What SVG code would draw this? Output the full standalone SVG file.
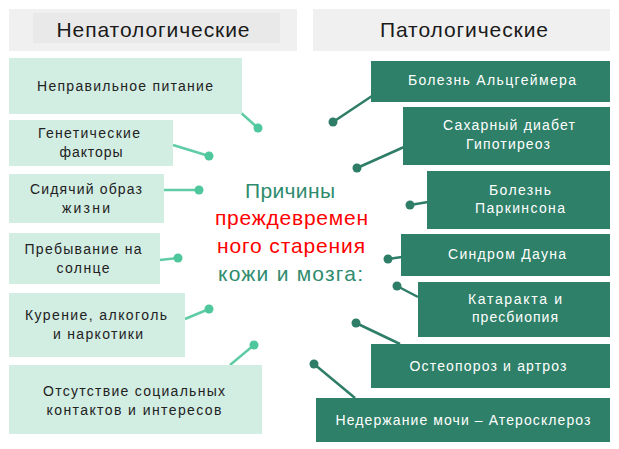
<svg xmlns="http://www.w3.org/2000/svg" width="619" height="449" viewBox="0 0 619 449">
<style>
.hdr{fill:#f0f0f0}
.hin{fill:#e9e9e9}
.lb{fill:#d2ede2}
.rb{fill:#2e8068}
.ht{font-family:"Liberation Sans",Arial,sans-serif;font-size:21px;fill:#1a1a1a;text-anchor:middle}
.lt{font-family:"Liberation Sans",Arial,sans-serif;font-size:14px;fill:#222;text-anchor:middle}
.rt{font-family:"Liberation Sans",Arial,sans-serif;font-size:14px;fill:#fff;text-anchor:middle}
.ct{font-family:"Liberation Sans",Arial,sans-serif;font-size:21px}
.g{fill:#2e8b6e}
.r{fill:#ff0000}
.ll{stroke:#5fcca5;stroke-width:2.5;fill:none}
.ld{fill:#4fc79c}
.rl{stroke:#2e7d67;stroke-width:2.5;fill:none}
.rd{fill:#2e7d67}
</style>
<rect width="619" height="449" fill="#fff"/>
<g id="header-left"><rect class="hdr" x="9" y="9" width="288" height="42"/><rect class="hin" x="33" y="13" width="247" height="30"/><text class="ht" x="153" y="37" textLength="193">Непатологические</text></g>
<g id="header-right"><rect class="hdr" x="313" y="9" width="297" height="42"/><text class="ht" x="464" y="37" textLength="168">Патологические</text></g>
<g id="connectors">
<line class="ll" x1="240" y1="112" x2="258" y2="128"/><circle class="ld" cx="258" cy="128" r="4.5"/>
<line class="ll" x1="173" y1="145" x2="209" y2="156"/><circle class="ld" cx="209" cy="156" r="4.5"/>
<line class="ll" x1="164" y1="190" x2="199" y2="190"/><circle class="ld" cx="199" cy="190" r="4.5"/>
<line class="ll" x1="160" y1="260" x2="178" y2="258"/><circle class="ld" cx="178" cy="258" r="4.5"/>
<line class="ll" x1="185" y1="319" x2="209" y2="309"/><circle class="ld" cx="209" cy="309" r="4.5"/>
<line class="ll" x1="230" y1="365" x2="254" y2="345"/><circle class="ld" cx="254" cy="345" r="4.5"/>
<line class="rl" x1="372" y1="96" x2="333" y2="122"/><circle class="rd" cx="333" cy="122" r="4.5"/>
<line class="rl" x1="404" y1="147" x2="357" y2="168"/><circle class="rd" cx="357" cy="168" r="4.5"/>
<line class="rl" x1="428" y1="202" x2="410" y2="205"/><circle class="rd" cx="410" cy="205" r="4.5"/>
<line class="rl" x1="402" y1="257" x2="388" y2="259"/><circle class="rd" cx="388" cy="259" r="4.5"/>
<line class="rl" x1="418" y1="297" x2="397" y2="286"/><circle class="rd" cx="397" cy="286" r="4.5"/>
<line class="rl" x1="400" y1="344" x2="356" y2="323"/><circle class="rd" cx="356" cy="323" r="4.5"/>
<line class="rl" x1="355" y1="398" x2="314" y2="364"/><circle class="rd" cx="314" cy="364" r="4.5"/>
</g>
<g id="l1"><rect class="lb" x="9" y="58" width="233" height="56"/><text class="lt" x="125" y="91" textLength="176">Неправильное питание</text></g>
<g id="l2"><rect class="lb" x="9" y="120" width="164" height="46"/><text class="lt" x="89" y="138" textLength="102">Генетические</text><text class="lt" x="91" y="157" textLength="63">факторы</text></g>
<g id="l3"><rect class="lb" x="9" y="174" width="155" height="49"/><text class="lt" x="86" y="194" textLength="112">Сидячий образ</text><text class="lt" x="86" y="213" textLength="48">жизни</text></g>
<g id="l4"><rect class="lb" x="9" y="233" width="151" height="51"/><text class="lt" x="83" y="254" textLength="117">Пребывание на</text><text class="lt" x="83" y="273" textLength="53">солнце</text></g>
<g id="l5"><rect class="lb" x="9" y="293" width="176" height="64"/><text class="lt" x="96" y="320" textLength="142">Курение, алкоголь</text><text class="lt" x="98" y="339" textLength="90">и наркотики</text></g>
<g id="l6"><rect class="lb" x="9" y="365" width="253" height="69"/><text class="lt" x="134" y="396" textLength="182">Отсутствие социальных</text><text class="lt" x="134" y="415" textLength="175">контактов и интересов</text></g>
<g id="center">
<text class="ct g" x="245" y="198" textLength="90">Причины</text>
<text class="ct r" x="215" y="225" textLength="153">преждевремен</text>
<text class="ct r" x="217" y="253" textLength="148">ного старения</text>
<text class="ct g" x="218" y="281" textLength="145">кожи и мозга:</text>
</g>
<g id="r1"><rect class="rb" x="371" y="61" width="239" height="41"/><text class="rt" x="492" y="85" textLength="168">Болезнь Альцгеймера</text></g>
<g id="r2"><rect class="rb" x="403" y="107" width="207" height="58"/><text class="rt" x="509" y="130" textLength="132">Сахарный диабет</text><text class="rt" x="508" y="149" textLength="84">Гипотиреоз</text></g>
<g id="r3"><rect class="rb" x="427" y="171" width="183" height="58"/><text class="rt" x="520" y="195" textLength="62">Болезнь</text><text class="rt" x="520" y="213" textLength="90">Паркинсона</text></g>
<g id="r4"><rect class="rb" x="401" y="234" width="209" height="42"/><text class="rt" x="507" y="259" textLength="118">Синдром Дауна</text></g>
<g id="r5"><rect class="rb" x="418" y="282" width="192" height="55"/><text class="rt" x="515" y="304" textLength="94">Катаракта и</text><text class="rt" x="515" y="322" textLength="86">пресбиопия</text></g>
<g id="r6"><rect class="rb" x="371" y="344" width="239" height="44"/><text class="rt" x="488" y="371" textLength="157">Остеопороз и артроз</text></g>
<g id="r7"><rect class="rb" x="316" y="398" width="294" height="44"/><text class="rt" x="463" y="425" textLength="255">Недержание мочи – Атеросклероз</text></g>
</svg>
